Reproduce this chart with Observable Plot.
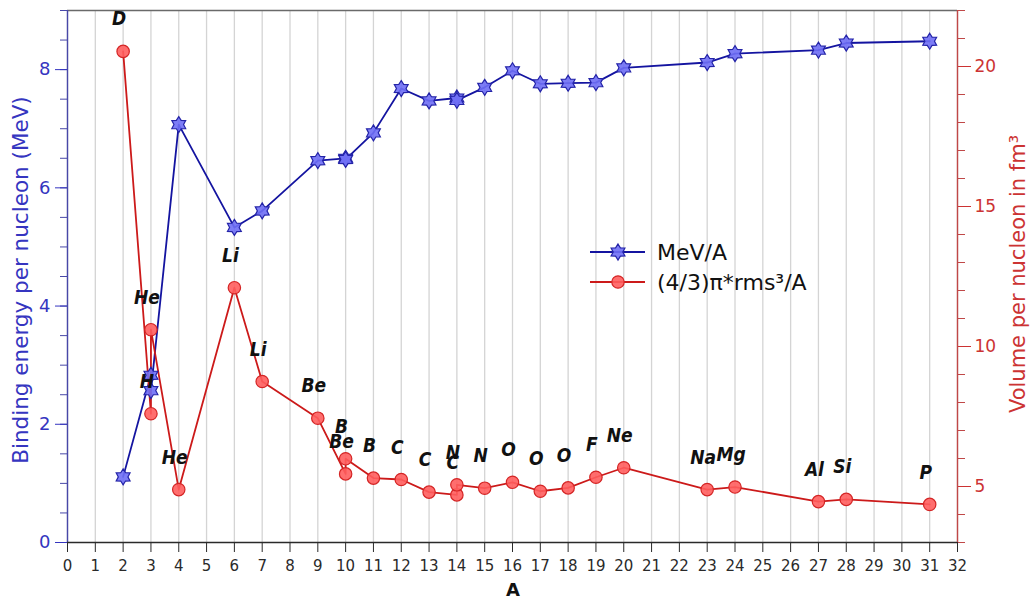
<!DOCTYPE html>
<html>
<head>
<meta charset="utf-8">
<script src="https://cdn.jsdelivr.net/npm/d3@7"></script>
<script src="https://cdn.jsdelivr.net/npm/@observablehq/plot@0.6"></script>
<style>
  html, body { margin: 0; padding: 0; background: #fff; }
  #chart { width: 1030px; height: 601px; }
</style>
</head>
<body>
<div id="chart"></div>
<script>
// ---- data ----
const massNumber = [2, 3, 3, 4, 6, 7, 9, 10, 10, 11, 12, 13, 14, 14, 15, 16, 17, 18, 19, 20, 23, 24, 27, 28, 31];
const element = ["D", "H", "He", "He", "Li", "Li", "Be", "Be", "B", "B", "C", "C", "C", "N", "N", "O", "O", "O", "F", "Ne", "Na", "Mg", "Al", "Si", "P"];
const bindingPerNucleon = [1.11, 2.83, 2.57, 7.07, 5.33, 5.61, 6.46, 6.50, 6.48, 6.93, 7.68, 7.47, 7.52, 7.48, 7.70, 7.98, 7.76, 7.77, 7.78, 8.03, 8.12, 8.27, 8.33, 8.45, 8.48];
const volumePerNucleon = [20.54, 7.60, 10.60, 4.89, 12.10, 8.75, 7.44, 5.45, 5.99, 5.30, 5.25, 4.80, 4.70, 5.06, 4.94, 5.15, 4.83, 4.95, 5.33, 5.67, 4.89, 4.98, 4.46, 4.54, 4.36];

const xTicks = d3.range(0, 33);
const leftMajorTicks = [0, 2, 4, 6, 8];
const leftMinorTicks = d3.range(0, 9.01, 0.5);
const rightMajorTicks = [5, 10, 15, 20];
const rightMinorTicks = d3.range(3, 22.01, 1);

const seriesNames = ["MeV/A", "(4/3)π*rms³/A"];
const leftTitle = "Binding energy per nucleon (MeV)";
const rightTitle = "Volume per nucleon in fm³";
const xTitle = "A";

// ---- scales ----
const leftDomain = [0, 9];
const rightDomain = [3, 22];
const toLeft = v => leftDomain[0] + (v - rightDomain[0]) * (leftDomain[1] - leftDomain[0]) / (rightDomain[1] - rightDomain[0]);
const fromLeft = y => rightDomain[0] + (y - leftDomain[0]) * (rightDomain[1] - rightDomain[0]) / (leftDomain[1] - leftDomain[0]);

const rows = massNumber.map((a, i) => ({A: a, el: element[i], be: bindingPerNucleon[i], vol: volumePerNucleon[i], volY: toLeft(volumePerNucleon[i])}));

// six-pointed star symbol
const hexagram = {
  draw(context, size) {
    const R = Math.sqrt(size / Math.PI);
    const r = R * 0.6;
    for (let k = 0; k < 12; k++) {
      const ang = -Math.PI / 2 + k * Math.PI / 6;
      const rad = k % 2 === 0 ? R : r;
      const px = rad * Math.cos(ang), py = rad * Math.sin(ang);
      if (k === 0) context.moveTo(px, py); else context.lineTo(px, py);
    }
    context.closePath();
  }
};

const BLUE_TEXT = "#3535c0";
const RED_TEXT = "#cc3333";
const BLUE_LINE = "#1414a0";
const RED_LINE = "#cc1a1a";
const LABEL_FONT = "'Liberation Sans Narrow', 'DejaVu Sans Condensed', 'Liberation Sans', Arial, sans-serif";

const chart = Plot.plot({
  width: 1030,
  height: 601,
  marginLeft: 67,
  marginRight: 73,
  marginTop: 10,
  marginBottom: 59,
  style: {fontFamily: "DejaVu Sans", background: "white", overflow: "visible"},
  x: {domain: [0, 32]},
  y: {domain: leftDomain},
  marks: [
    Plot.ruleX(xTicks, {stroke: "#d4d4d4", strokeWidth: 1.3}),
    Plot.ruleY([leftDomain[1]], {stroke: "#6a6a6a", strokeWidth: 1.6}),
    // left axis
    Plot.axisY(leftMinorTicks, {anchor: "left", tickSize: 7, tickFormat: () => "", color: "#4848a8", label: null}),
    Plot.axisY(leftMajorTicks, {anchor: "left", tickSize: 12, tickPadding: 5, fontSize: 18, color: BLUE_TEXT, tickFormat: d => String(d), label: null}),
    Plot.ruleX([0], {stroke: "#4848a8", strokeWidth: 1.4}),
    // right axis
    Plot.axisY(rightMinorTicks.map(toLeft), {anchor: "right", tickSize: 7, tickFormat: () => "", color: "#c04848", label: null}),
    Plot.axisY(rightMajorTicks.map(toLeft), {anchor: "right", tickSize: 13, tickPadding: 4, fontSize: 17, color: RED_TEXT, tickFormat: d => String(Math.round(fromLeft(d))), label: null}),
    Plot.ruleX([32], {stroke: "#c04848", strokeWidth: 1.4}),
    // bottom axis
    Plot.axisX(xTicks, {anchor: "bottom", tickSize: 10, tickPadding: 8, fontSize: 15, color: "#2a2a2a", tickFormat: d => String(d), label: null}),
    Plot.ruleY([leftDomain[0]], {stroke: "#2a2a2a", strokeWidth: 1.6}),
    // series
    Plot.line(rows, {x: "A", y: "be", stroke: BLUE_LINE, strokeWidth: 1.8}),
    Plot.line(rows, {x: "A", y: "volY", stroke: RED_LINE, strokeWidth: 1.8}),
    Plot.dot(rows, {x: "A", y: "volY", r: 6.2, fill: "#ff5e5e", fillOpacity: 0.9, stroke: "#d42525", strokeWidth: 1.2}),
    Plot.dot(rows, {x: "A", y: "be", r: 8, symbol: hexagram, fill: "#6f6ff5", fillOpacity: 0.9, stroke: "#2424a8", strokeWidth: 1.2}),
    Plot.text(rows, {x: "A", y: "volY", text: "el", dy: -32, dx: -4, fontSize: 19, fontStyle: "italic", fontWeight: "bold", fontFamily: LABEL_FONT, fill: "#111"})
  ]
});

const svg = d3.select(chart);
// axis titles
svg.append("text")
  .attr("transform", "translate(20,280) rotate(-90)")
  .attr("text-anchor", "middle").attr("dy", "0.36em")
  .attr("font-size", 21.5).attr("font-family", "DejaVu Sans").attr("fill", BLUE_TEXT)
  .text(leftTitle);
svg.append("text")
  .attr("transform", "translate(1017,274) rotate(-90)")
  .attr("text-anchor", "middle").attr("dy", "0.36em")
  .attr("font-size", 21).attr("font-family", "DejaVu Sans").attr("fill", RED_TEXT)
  .text(rightTitle);
svg.append("text")
  .attr("x", 513).attr("y", 596)
  .attr("text-anchor", "middle")
  .attr("font-size", 18).attr("font-weight", "bold").attr("font-family", "DejaVu Sans").attr("fill", "#111")
  .text(xTitle);

// legend
const legend = svg.append("g").attr("transform", "translate(590,252)");
const legendItems = [
  {name: seriesNames[0], line: BLUE_LINE, fill: "#6f6ff5", stroke: "#2424a8", star: true},
  {name: seriesNames[1], line: RED_LINE, fill: "#ff5e5e", stroke: "#d42525", star: false}
];
legendItems.forEach((it, i) => {
  const g = legend.append("g").attr("transform", `translate(0,${i * 30})`);
  g.append("line").attr("x1", 0).attr("x2", 55).attr("y1", 0).attr("y2", 0).attr("stroke", it.line).attr("stroke-width", 1.8);
  let p;
  if (it.star) {
    const path = d3.path();
    hexagram.draw(path, Math.PI * 8 * 8);
    p = g.append("path").attr("d", path.toString()).attr("transform", "translate(28,0)");
  } else {
    p = g.append("circle").attr("cx", 28).attr("cy", 0).attr("r", 6.2);
  }
  p.attr("fill", it.fill).attr("fill-opacity", 0.9).attr("stroke", it.stroke).attr("stroke-width", 1.2);
  g.append("text").attr("x", 67).attr("y", 0).attr("dy", "0.36em")
    .attr("text-anchor", "start")
    .attr("font-size", 22).attr("font-family", "DejaVu Sans").attr("fill", "#111")
    .text(it.name);
});

document.getElementById("chart").appendChild(chart);
</script>
</body>
</html>
